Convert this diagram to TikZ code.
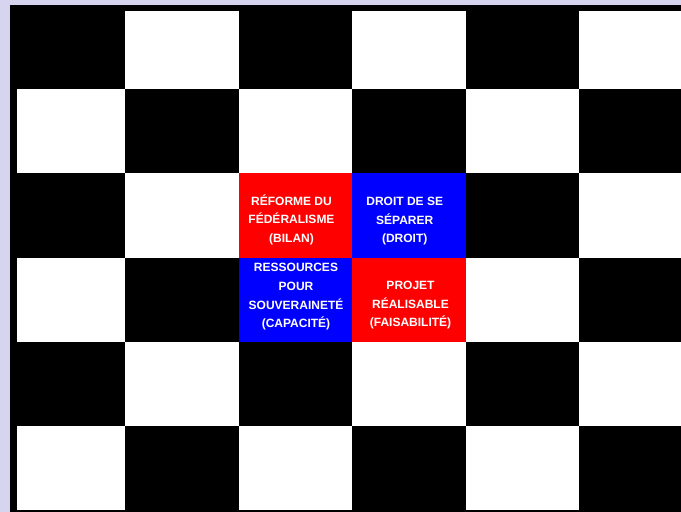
\documentclass[tikz,border=0pt]{standalone}
\usepackage{fontspec}
\newfontfamily\lab{Liberation Sans}
\definecolor{lavender}{RGB}{214,212,238}
\definecolor{pured}{RGB}{255,0,0}
\definecolor{pureblue}{RGB}{0,0,255}
\begin{document}
\begin{tikzpicture}[x=1pt,y=-1pt,
  cell/.style={draw=none, inner sep=0pt, outer sep=0pt, minimum width=113.5pt, minimum height=84.2pt, anchor=north west},
  lbl/.style={text=white, font=\lab\bfseries\fontsize{12}{18.8}\selectfont, align=center, inner sep=0pt, anchor=center}]
\fill[lavender] (0,0) rectangle (681,512);
\useasboundingbox (0,0) rectangle (681,512);
\fill[black] (10,5) rectangle (681,512);
\begin{scope}
\clip (17,11) rectangle (681,510);
\foreach \r in {0,...,5}{
  \foreach \c in {0,...,5}{
    \pgfmathtruncatemacro\k{mod(\r+\c,2)}
    \ifnum\k=0 \def\cc{black}\else\def\cc{white}\fi
    \node[cell, fill=\cc] (cell-\r-\c) at ({11.5+113.5*\c},{5+84.2*\r}) {};
  }
}
\end{scope}
\node[cell, fill=pured] (ref) at (238.5,173.4) {};
\node[cell, fill=pureblue] (droit) at (352,173.4) {};
\node[cell, fill=pureblue] (res) at (238.5,257.6) {};
\node[cell, fill=pured] (proj) at (352,257.6) {};
\node[lbl] (t-ref) at (291.5,219.9) {RÉFORME DU\\FÉDÉRALISME\\(BILAN)};
\node[lbl] (t-droit) at (404.7,221.2) {DROIT DE SE\\SÉPARER\\(DROIT)};
\node[lbl] (t-res) at (296,296.7) {RESSOURCES\\POUR\\SOUVERAINETÉ\\(CAPACITÉ)};
\node[lbl] (t-proj) at (410.5,305.1) {PROJET\\RÉALISABLE\\(FAISABILITÉ)};
\end{tikzpicture}
\end{document}
